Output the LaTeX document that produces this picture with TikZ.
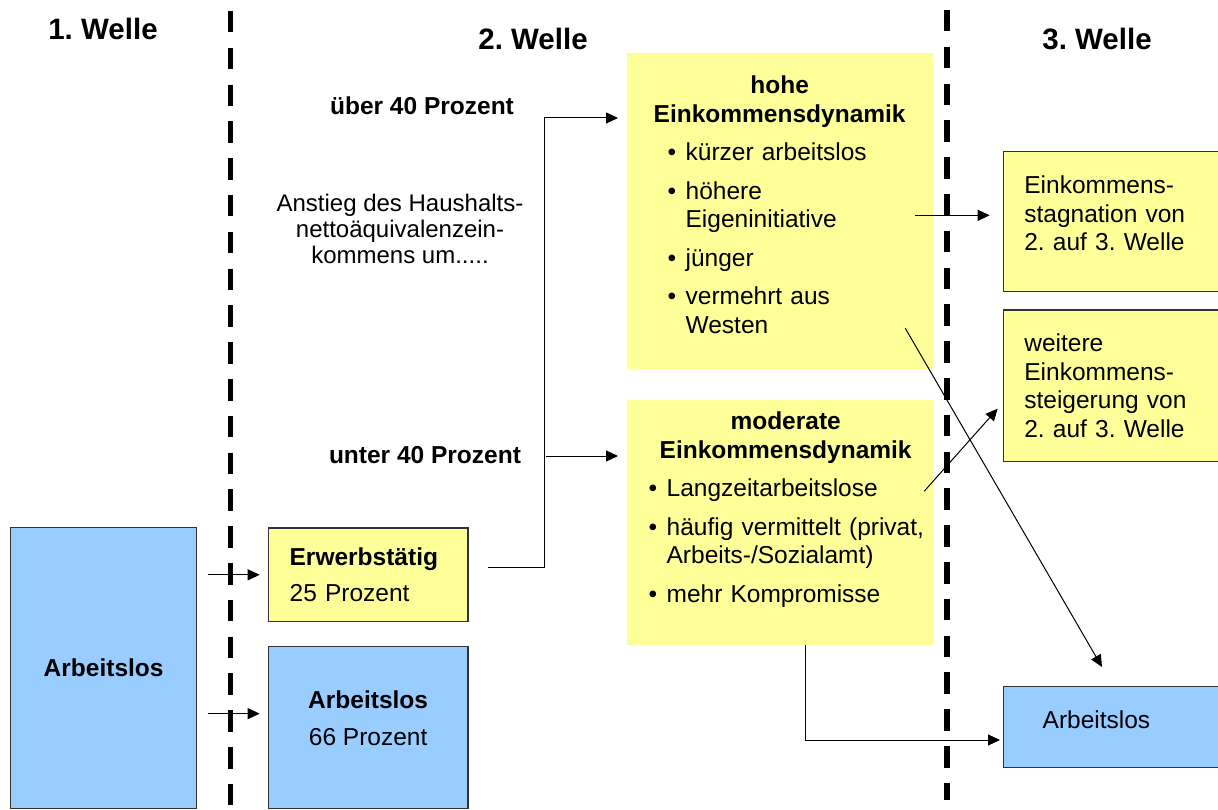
\documentclass[tikz,border=0pt]{standalone}
\usepackage{fontspec}
\setmainfont{Liberation Sans}
\usetikzlibrary{arrows.meta,calc,positioning}
\frenchspacing

\definecolor{gelbton}{HTML}{FFFF99}
\definecolor{blauton}{HTML}{99CCFF}

\newcommand{\tief}[1]{\rule[-#1]{0pt}{#1}}
\newcommand{\punkt}[2][0pt]{\par\leftskip=#1\relax\hangindent=18pt\hangafter=1\noindent\makebox[18pt][l]{\textbullet}#2}

\begin{document}
\begin{tikzpicture}[
	x=1pt, y=-1pt,
	every node/.style={font=\fontsize{24.5}{28.5}\selectfont},
	welle/.style={font=\fontsize{29.5}{34}\selectfont\bfseries, anchor=base},
	marke/.style={font=\fontsize{24.5}{28.5}\selectfont\bfseries, anchor=base},
	kasten/.style={
		rectangle, anchor=north west,
		inner ysep=0pt, draw=black!80, line width=1.3pt
	},
	gelb/.style={kasten, fill=gelbton},
	blau/.style={kasten, fill=blauton},
	dynamik/.style={
		kasten, draw=none, fill=gelbton,
		inner xsep=5pt, text width=296pt, align=left, minimum width=306pt
	},
	trenn/.style={line width=5.3pt, dash pattern=on 21.5pt off 15.3pt},
	line/.style={draw, line width=1pt},
	pfeil/.style={line, -{Triangle[length=12pt,width=11pt]}, shorten >=8pt},
	]
	\useasboundingbox (0,0) rectangle (1218,810);

	% Wellen
	\node [welle] (w1) at (103,39.5) {1. Welle};
	\node [welle] (w2) at (533,50) {2. Welle};
	\node [welle] (w3) at (1097,50) {3. Welle};

	% 1. Welle
	\node [blau, minimum width=186pt, minimum height=281pt, align=center,
		font=\fontsize{24.5}{28.5}\selectfont\bfseries] (arb1) at (10,527) {Arbeitslos};

	% 2. Welle
	\node [gelb, minimum width=199.6pt, minimum height=93.7pt, inner xsep=21pt,
		text width=157pt, align=left] (erw) at (267.7,527.3)
		{\textbf{Erwerbstätig}\\[8pt]25 Prozent};
	\node [blau, minimum width=199.6pt, minimum height=162pt, align=center] (arb2) at (267.7,646)
		{\textbf{Arbeitslos}\\[8pt]66 Prozent\tief{19pt}};

	\node [marke] (ueber) at (422,115) {über 40 Prozent};
	\node [marke] (unter) at (425,463) {unter 40 Prozent};
	\node [anchor=north, align=center, inner sep=0pt,
		font=\fontsize{24}{26}\selectfont] (anstieg) at (400,193.5)
		{Anstieg des Haushalts-\\nettoäquivalenzein-\\kommens um.....};

	\node [dynamik, minimum height=316pt] (hohe) at (626,52) {%
		{\centering\bfseries hohe\break Einkommensdynamik\par}
		\setlength{\parskip}{10pt}
		\punkt[36pt]{kürzer arbeitslos}
		\punkt[36pt]{höhere\break Eigeninitiative}
		\punkt[36pt]{jünger}
		\punkt[36pt]{vermehrt aus\break Westen\tief{12pt}}\par};
	\node [dynamik, minimum height=245pt] (moderat) at (626,399) {%
		{\centering\bfseries\hspace*{12pt}moderate\break\hspace*{12pt}Einkommensdynamik\par}
		\setlength{\parskip}{10pt}
		\punkt[17pt]{Langzeitarbeitslose}
		\punkt[17pt]{häufig vermittelt (privat,\break Arbeits-/Sozialamt)}
		\punkt[17pt]{mehr Kompromisse\tief{30pt}}\par};

	% 3. Welle
	\node [gelb, minimum width=227pt, minimum height=140pt, inner xsep=21pt,
		text width=185pt, align=left] (stag) at (1002.7,150.7)
		{Einkommens-\\stagnation von\\2. auf 3. Welle\tief{16pt}};
	\node [gelb, minimum width=227pt, minimum height=151.4pt, inner xsep=21pt,
		text width=185pt, align=left] (steig) at (1002.7,309.3)
		{weitere\\Einkommens-\\steigerung von\\2. auf 3. Welle};
	\node [blau, minimum width=227pt, minimum height=80.7pt, inner xsep=39pt,
		text width=149pt, align=left] (arb3) at (1003,686) {Arbeitslos\tief{14pt}};

	% Trennlinien
	\draw [trenn] (230.5,11) -- (230.5,806);
	\draw [trenn] (947,10) -- (947,800);

	% Verbindungen
	\coordinate (knick) at (544,118);
	\coordinate (abzweig) at (544,456);

	\path [pfeil, shorten <=11pt] (arb1.east |- erw.west) -- (erw.west);
	\path [pfeil, shorten <=11pt] ($(arb1.east |- arb2.west)+(0,-14)$) -- ($(arb2.west)+(0,-14)$);
	\path [pfeil, shorten <=19pt] ($(erw.east)+(0,-7)$) -| (knick) -- (knick -| hohe.west);
	\path [pfeil, shorten <=2pt] (abzweig) -- (abzweig -| moderat.west);
	\path [pfeil, shorten <=-18pt, shorten >=13pt] ($(hohe.east |- stag.west)+(0,-6)$) -- ($(stag.west)+(0,-6)$);
	\path [pfeil, shorten >=0pt] ($(hohe.south east)+(-28,-41)$) -- ($(arb3.north west)+(99,-19)$);
	\path [pfeil, shorten >=0pt] ($(moderat.east)+(-9,-31)$) -- ($(steig.west)+(-5,23)$);
	\path [pfeil, shorten >=3pt] ($(moderat.south)+(26,0)$) |- ($(arb3.west)+(0,13)$);
\end{tikzpicture}
\end{document}
